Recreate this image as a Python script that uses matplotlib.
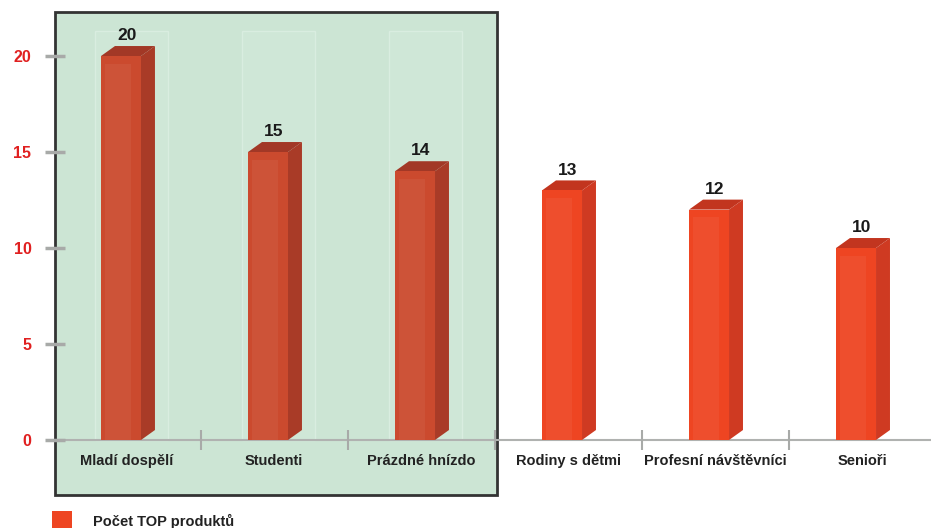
import matplotlib
matplotlib.use('Agg')
import matplotlib.pyplot as plt
from matplotlib.patches import Polygon, Rectangle

plt.rcParams['font.family'] = ['Liberation Sans', 'DejaVu Sans']

kategorie = ['Mladí dospělí', 'Studenti', 'Prázdné hnízdo',
             'Rodiny s dětmi', 'Profesní návštěvníci', 'Senioři']
pocty = [20, 15, 14, 13, 12, 10]
zvyraznene = 3  # prvni tri kategorie v zelenem poli
y_ticks = [0, 5, 10, 15, 20]
legenda = 'Počet TOP produktů'

# barvy: (celo, bok, vrch)
barvy_zelene = ('#cb4a2e', '#a93b27', '#a23826')
barvy_bile = ('#ee4522', '#cf3a22', '#c2351f')

W, H = 931, 528
fig = plt.figure(figsize=(W / 100, H / 100), dpi=100)
ax = fig.add_axes([55 / W, 0, 1 - 55 / W, 1])
ax.set_xlim(-0.49, 5.469)
ax.set_ylim(-4.583, 22.917)
for s in ax.spines.values():
    s.set_visible(False)
ax.set_xticks([])
ax.set_yticks(y_ticks)
ax.set_yticklabels([str(t) for t in y_ticks], color='#e02020',
                   fontweight='bold', fontsize=11.5)
ax.tick_params(axis='y', direction='inout', length=14, width=2.5,
               color='#a8aaa8', pad=10)

# zelene pole
ax.add_patch(Rectangle((-0.49, -2.865), 3.007, 25.155, facecolor='#cce5d4',
                       edgecolor='#333333', lw=2, zorder=0, clip_on=False))

# vodorovna osa a oddelovace
ax.axhline(0, color='#b0b2b0', lw=1.5, zorder=1)
for i in range(len(kategorie) - 1):
    ax.vlines(i + 0.5, -0.52, 0.52, color='#a8aaa8', lw=1.5, zorder=1)

sirka = 0.272
hloubka_x = 0.095
hloubka_y = 0.52
for i, (nazev, v) in enumerate(zip(kategorie, pocty)):
    celo, bok, vrch = barvy_zelene if i < zvyraznene else barvy_bile
    x0 = i - 0.177
    x1 = x0 + sirka
    if i < zvyraznene:
        ax.add_patch(Rectangle((i - 0.22, 0), 0.5, 21.3, facecolor='#cfe7d7',
                               edgecolor='#d9ede0', lw=1, zorder=0.5))
    ax.add_patch(Polygon([(x1, 0), (x1 + hloubka_x, hloubka_y),
                          (x1 + hloubka_x, v + hloubka_y), (x1, v)],
                         closed=True, facecolor=bok, edgecolor='none', zorder=2))
    ax.add_patch(Polygon([(x0, v), (x1, v), (x1 + hloubka_x, v + hloubka_y),
                          (x0 + hloubka_x, v + hloubka_y)],
                         closed=True, facecolor=vrch, edgecolor='none', zorder=2))
    ax.add_patch(Rectangle((x0, 0), sirka, v, facecolor=celo,
                           edgecolor='none', zorder=3))
    ax.add_patch(Rectangle((x0 + 0.03, 0), sirka - 0.1, v - 0.4,
                           facecolor='white', alpha=0.05, edgecolor='none', zorder=3))
    ax.text(i, v + hloubka_y + 0.15, str(v), ha='center', va='bottom',
            fontsize=12.5, fontweight='bold', color='#1a1a1a', zorder=4)
    ax.text(i, -1.1, nazev, ha='center', va='center', fontsize=10.5,
            fontweight='bold', color='#222222', zorder=4)

# legenda
ax.add_patch(Rectangle((-0.51, -4.7), 0.136, 1.0, facecolor='#ee4522',
                       edgecolor='none', clip_on=False))
ax.text(-0.232, -4.25, legenda, ha='left', va='center', fontsize=10.5,
        fontweight='bold', color='#222222')

fig.savefig('out.png', dpi=100)
